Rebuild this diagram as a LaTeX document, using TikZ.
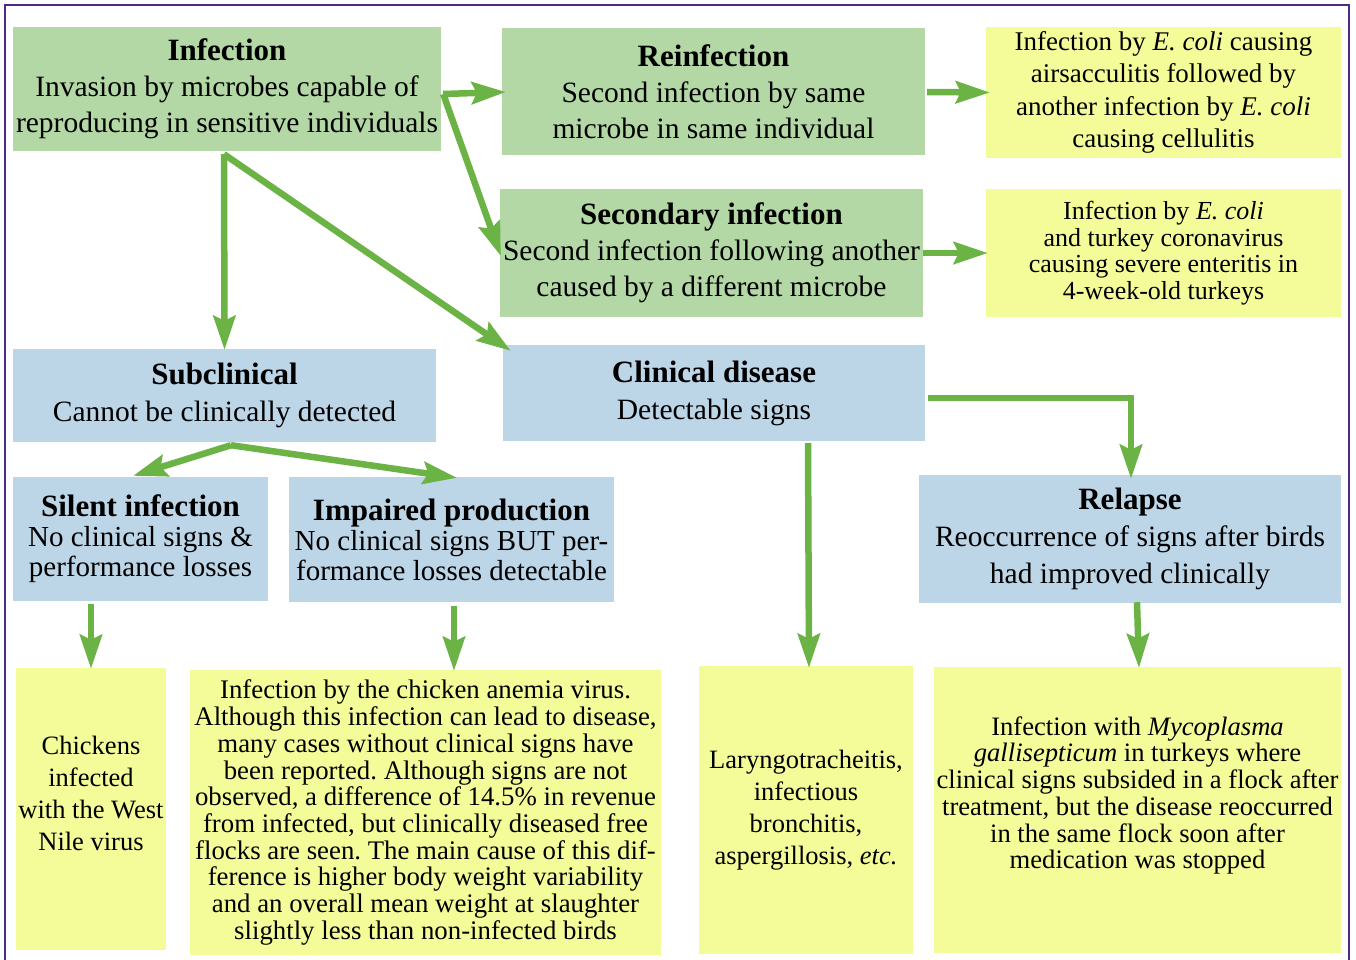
\documentclass[tikz,border=0pt]{standalone}
\usepackage{fontspec}
\setmainfont{Liberation Serif}
\usetikzlibrary{arrows.meta,calc}
\frenchspacing
\definecolor{gboxc}{HTML}{B3D8A5}
\definecolor{bboxc}{HTML}{BCD5E7}
\definecolor{yboxc}{HTML}{F4FC9A}
\definecolor{agreen}{HTML}{6CB345}
\definecolor{framec}{HTML}{4E2A84}
\newcommand{\hd}[1]{{\fontsize{31}{36}\selectfont\bfseries #1}}
\newcommand{\hds}[1]{{\fontsize{31}{30}\selectfont\bfseries #1}}
\begin{document}
\begin{tikzpicture}[x=1pt,y=-1pt,
  box/.style={inner sep=0pt, align=center, anchor=center},
  gb/.style={box, fill=gboxc},
  bb/.style={box, fill=bboxc},
  yb/.style={box, fill=yboxc},
  txt/.style={inner sep=0pt, align=center, anchor=center},
  arr/.style={draw=agreen, line width=6.5pt, -{Stealth[length=34pt,width=22pt,inset=5pt]}}
]
\useasboundingbox (0,0) rectangle (1356,959);
\fill[white] (0,0) rectangle (1356,959);
\draw[framec, line width=2pt] (5,1000) -- (5,5) -- (1349,5) -- (1349,1000);

% top row
\node[gb, minimum width=428pt, minimum height=124pt, font=\fontsize{29.5}{36}\selectfont] (inf) at (227,89)
  {\hd{Infection}\\Invasion by microbes capable of\\reproducing in sensitive individuals};
\node[gb, minimum width=423pt, minimum height=127pt, font=\fontsize{29.5}{36}\selectfont] (reinf) at (713.5,91.5)
  {\hd{Reinfection}\\Second infection by same\\microbe in same individual};
\node[gb, minimum width=423pt, minimum height=128pt, font=\fontsize{29.5}{36}\selectfont] (secd) at (711.5,253)
  {\hd{Secondary infection}\\Second infection following another\\caused by a different microbe};
\node[yb, minimum width=355pt, minimum height=131pt, font=\fontsize{27}{32.5}\selectfont] (ya) at (1163.5,92.5)
  {Infection by \textit{E. coli} causing\\airsacculitis followed by\\another infection by \textit{E. coli}\\causing cellulitis};
\node[yb, minimum width=355pt, minimum height=128pt, font=\fontsize{26}{26.7}\selectfont] (yb2) at (1163.5,253)
  {Infection by \textit{E. coli}\\and turkey coronavirus\\causing severe enteritis in\\4-week-old turkeys};

% middle row
\node[bb, minimum width=423pt, minimum height=93pt, font=\fontsize{29.5}{37}\selectfont] (subc) at (224.5,395.5)
  {\hd{Subclinical}\\Cannot be clinically detected};
\node[bb, minimum width=422pt, minimum height=96pt, font=\fontsize{29.5}{37}\selectfont] (clin) at (714,393)
  {\hd{Clinical disease}\\Detectable signs};
\node[bb, minimum width=255pt, minimum height=124pt, font=\fontsize{29}{30}\selectfont] (sil) at (140.5,539)
  {\hds{Silent infection}\\No clinical signs \&\\performance losses};
\node[bb, minimum width=325pt, minimum height=125pt, font=\fontsize{29}{30}\selectfont] (imp) at (451.5,539.5)
  {\hds{Impaired production}\\No clinical signs BUT per-\\formance losses detectable};
\node[bb, minimum width=422pt, minimum height=128pt, font=\fontsize{29.5}{37}\selectfont] (rel) at (1130,539)
  {\hd{Relapse}\\Reoccurrence of signs after birds\\had improved clinically};

% bottom row
\node[yb, minimum width=150pt, minimum height=282pt] (chick) at (91,809) {};
\node[txt, font=\fontsize{26.5}{32}\selectfont] (chickT) at (91,793)
  {Chickens\\infected\\with the West\\Nile virus};
\node[yb, minimum width=471pt, minimum height=285pt, font=\fontsize{26.8}{26.7}\selectfont] (anem) at (425.5,812.5)
  {Infection by the chicken anemia virus.\\Although this infection can lead to disease,\\many cases without clinical signs have\\been reported. Although signs are not\\observed, a difference of 14.5\% in revenue\\from infected, but clinically diseased free\\flocks are seen. The main cause of this dif-\\ference is higher body weight variability\\and an overall mean weight at slaughter\\slightly less than non-infected birds};
\node[yb, minimum width=214pt, minimum height=288pt, font=\fontsize{26.5}{32}\selectfont] (lar) at (806,810)
  {Laryngotracheitis,\\infectious\\bronchitis,\\aspergillosis, \textit{etc.}};
\node[yb, minimum width=407pt, minimum height=286pt] (myco) at (1137.5,810) {};
\node[txt, font=\fontsize{26.6}{26.7}\selectfont] (mycoT) at (1137.5,795.5)
  {Infection with \textit{Mycoplasma}\\\textit{gallisepticum} in turkeys where\\clinical signs subsided in a flock after\\treatment, but the disease reoccurred\\in the same flock soon after\\medication was stopped};

% connectors
\draw[arr] ($(inf.east)+(2,5)$) -- ($(reinf.west)+(4,0.5)$);
\draw[arr] ($(inf.east)+(2,5)$) -- ($(secd.west)+(1,3)$);
\draw[arr] ($(inf.south)+(-3,3)$) -- ($(subc.north)+(0,1)$);
\draw[arr] ($(inf.south)+(-3,3)$) -- ($(clin.north west)+(8,6)$);
\draw[arr] ($(reinf.east)+(2,0.5)$) -- ($(ya.west)+(4,0)$);
\draw[arr] (secd.east) -- ($(yb2.west)+(2,0)$);
\draw[arr] ($(subc.south)+(6.5,3)$) -- ($(sil.north)+(-7.5,-1)$);
\draw[arr] ($(subc.south)+(6.5,3)$) -- ($(imp.north)+(5.5,1)$);
\draw[arr] ($(clin.east)+(3,5)$) -| ($(rel.north)+(1,4)$);
\draw[arr] ($(clin.south)+(94,2)$) -- ($(lar.north)+(3,2)$);
\draw[arr] ($(sil.south)+(-49.5,3)$) -- ($(chick.north)+(0,1)$);
\draw[arr] ($(imp.south)+(2.5,4)$) -- ($(anem.north)+(28.5,1)$);
\draw[arr] ($(rel.south)+(7,-1)$) -- ($(myco.north)+(1.5,1)$);
\end{tikzpicture}
\end{document}
